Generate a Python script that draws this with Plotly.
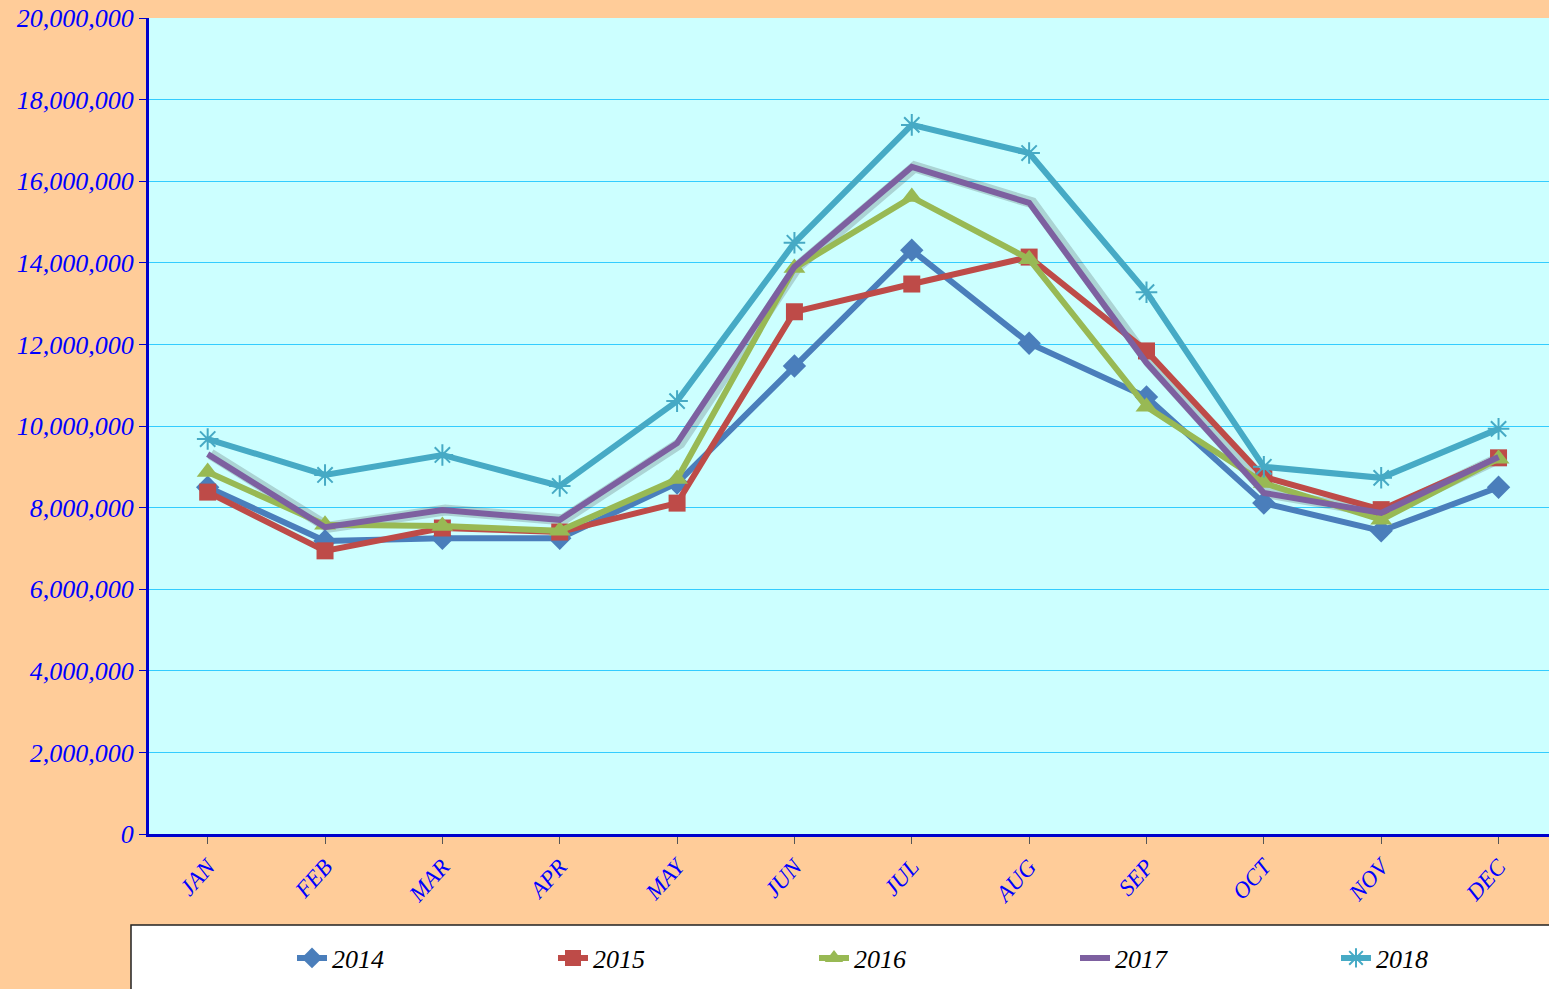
import plotly.graph_objects as go

months = ["JAN", "FEB", "MAR", "APR", "MAY", "JUN", "JUL", "AUG", "SEP", "OCT", "NOV", "DEC"]
y2014 = [8500000, 7180000, 7250000, 7250000, 8600000, 11470000, 14310000, 12030000, 10710000, 8110000, 7430000, 8500000]
y2015 = [8380000, 6940000, 7500000, 7400000, 8110000, 12800000, 13480000, 14140000, 11840000, 8750000, 7950000, 9220000]
y2016 = [8870000, 7580000, 7550000, 7430000, 8700000, 13870000, 15610000, 14090000, 10470000, 8600000, 7700000, 9200000]
y2017 = [9310000, 7520000, 7940000, 7700000, 9580000, 13900000, 16350000, 15470000, 11550000, 8360000, 7870000, 9240000]
y2018 = [9680000, 8800000, 9290000, 8530000, 10610000, 14490000, 17380000, 16690000, 13280000, 9000000, 8730000, 9930000]
years = ["2014", "2015", "2016", "2017", "2018"]
series = [y2014, y2015, y2016, y2017, y2018]
colors = ["#4A7EBB", "#BE4B48", "#98B954", "#7D60A0", "#46AAC5"]
symbols = ["diamond", "square", "triangle-up", None, "asterisk-open"]
msizes = [18, 17, 19, 0, 18]

L, R, T, B = 149, 0, 18, 155
W, H = 1549, 989
PW = W - L - R
PH = H - T - B

def px_x(px):
    return (px - L) / PW

def px_y(py):
    return (H - B - py) / PH

fig = go.Figure()
x = list(range(12))

# soft shadow under the 2017 line
fig.add_trace(go.Scatter(x=[v + 0.025 for v in x], y=y2017, mode="lines",
                         line=dict(color="rgba(40,40,40,0.2)", width=11),
                         showlegend=False, hoverinfo="skip"))

legend_starts = [292, 553, 814, 1075, 1336]
legend_ids = ["legend", "legend2", "legend3", "legend4", "legend5"]

for i, (name, ys, c, s, ms) in enumerate(zip(years, series, colors, symbols, msizes)):
    if s is None:
        tr = go.Scatter(x=x, y=ys, name=name, mode="lines", line=dict(color=c, width=6))
    else:
        mk = dict(symbol=s, size=ms, color=c)
        if s == "asterisk-open":
            mk["line"] = dict(color=c, width=2)
        tr = go.Scatter(x=x, y=ys, name=name, mode="lines+markers",
                        line=dict(color=c, width=6), marker=mk)
    tr.legend = legend_ids[i]
    fig.add_trace(tr)

fig.add_shape(type="rect", xref="paper", yref="paper",
              x0=px_x(131), x1=px_x(1560), y0=px_y(925), y1=px_y(1000),
              fillcolor="white", line=dict(color="#222222", width=1.5), layer="below")

legend_font = dict(family="Liberation Serif", size=26, color="#000000", style="italic")
layout_legends = {}
for lid, xs in zip(legend_ids, legend_starts):
    layout_legends[lid] = dict(
        orientation="h", x=px_x(xs), xanchor="left", y=px_y(958), yanchor="middle",
        bgcolor="rgba(0,0,0,0)", font=legend_font,
    )

fig.update_layout(
    width=W, height=H,
    margin=dict(l=L, r=R, t=T, b=B),
    paper_bgcolor="#FFCC99",
    plot_bgcolor="#CCFFFF",
    font=dict(family="Liberation Serif", style="italic"),
    xaxis=dict(
        tickmode="array", tickvals=x, ticktext=months,
        range=[-0.5, 11.43], tickangle=-48,
        tickfont=dict(family="Liberation Serif", size=23, color="#0000FF", style="italic"),
        showgrid=False, showline=True, linecolor="#0000CC", linewidth=3,
        ticks="outside", tickson="boundaries", ticklen=7, tickcolor="#555555",
        zeroline=False,
    ),
    yaxis=dict(
        range=[0, 20000000], dtick=2000000, tickformat=",d",
        tickfont=dict(family="Liberation Serif", size=26, color="#0000FF", style="italic"),
        showgrid=True, gridcolor="#33CCFF", gridwidth=1,
        showline=True, linecolor="#0000CC", linewidth=3,
        ticks="outside", ticklen=7, tickcolor="#0000CC",
        zeroline=False,
    ),
    **layout_legends,
)

fig.write_html("out.html", config={"displayModeBar": False},
               post_script="document.body.style.margin='0';document.body.style.overflow='hidden';")
